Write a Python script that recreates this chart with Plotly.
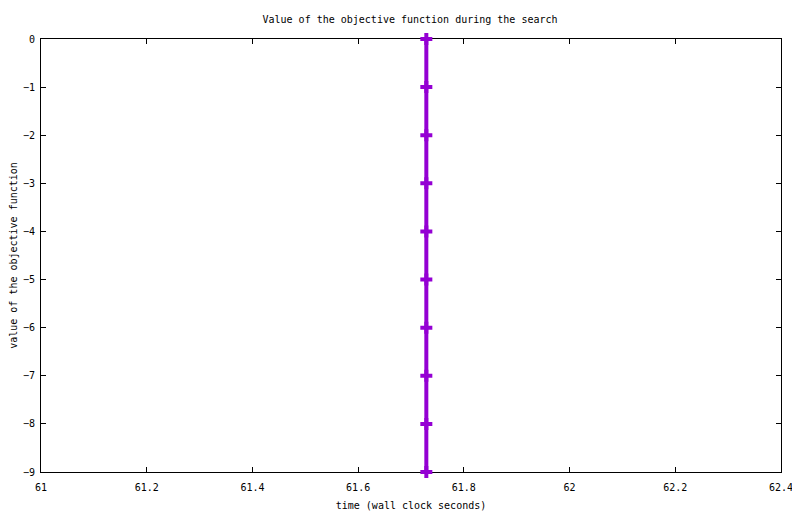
import plotly.graph_objects as go

# dati
tempo = [61.729] * 10
obiettivo = [0, -1, -2, -3, -4, -5, -6, -7, -8, -9]

x_ticks = [61, 61.2, 61.4, 61.6, 61.8, 62, 62.2, 62.4]
x_labels = ["61", "61.2", "61.4", "61.6", "61.8", "62", "62.2", "62.4"]
y_ticks = [0, -1, -2, -3, -4, -5, -6, -7, -8, -9]

font = dict(family="DejaVu Sans Mono", size=10, color="black")

fig = go.Figure()
fig.add_trace(go.Scatter(
    x=tempo, y=obiettivo, mode="lines+markers",
    line=dict(color="#9400D3", width=4),
    marker=dict(symbol="cross", size=10, color="#9400D3"),
    cliponaxis=False, showlegend=False,
))

# la pagina ha un margine di 8px, quindi la figura e' un po' piu' piccola
fig.update_layout(
    width=792, height=506,
    margin=dict(l=33, r=19, t=31, b=42),
    paper_bgcolor="white", plot_bgcolor="white",
    font=font,
    title=dict(text="Value of the objective function during the search",
               x=0.5076, xanchor="center", y=0.978, yanchor="middle",
               font=font),
)
fig.update_xaxes(
    range=[61, 62.4], tickvals=x_ticks, ticktext=x_labels,
    ticks="inside", ticklen=5, tickcolor="black", mirror="ticks",
    showline=True, linecolor="black", linewidth=1, showgrid=False, zeroline=False,
    layer="below traces", automargin=False, ticklabelstandoff=6,
    title=dict(text="time (wall clock seconds)", font=font, standoff=9),
)
fig.update_yaxes(
    range=[-9, 0], tickvals=y_ticks,
    ticks="inside", ticklen=5, tickcolor="black", mirror="ticks",
    showline=True, linecolor="black", linewidth=1, showgrid=False, zeroline=False,
    layer="below traces", automargin=False, ticklabelstandoff=3,
    title=dict(text="value of the objective function", font=font, standoff=15),
)

fig.write_html("out.html")
